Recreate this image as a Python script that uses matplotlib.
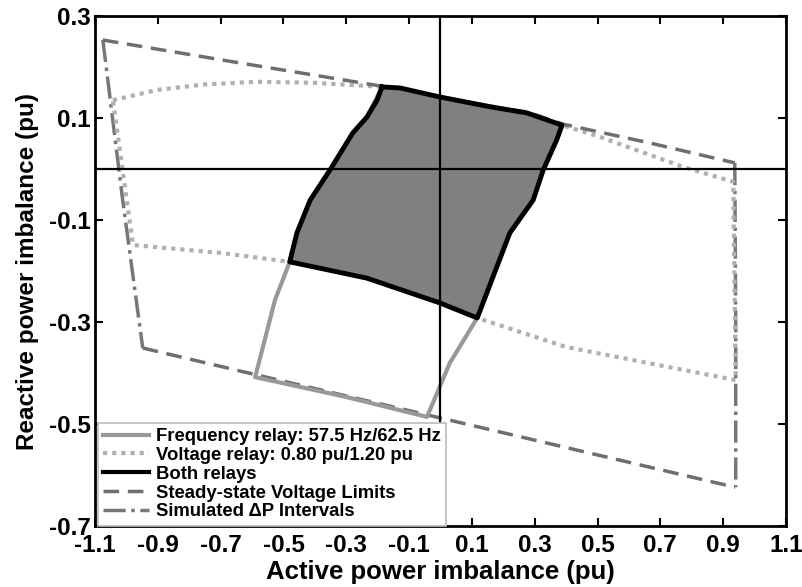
import matplotlib.pyplot as plt

plt.rcParams['font.family'] = ['Liberation Sans', 'DejaVu Sans']
plt.rcParams['font.weight'] = 'bold'

# Both relays (black outline, filled region)
both_x = [-0.186, -0.202, -0.234, -0.279, -0.352, -0.415, -0.457, -0.48,
          -0.234, 0.0, 0.117, 0.221, 0.295, 0.327, 0.37, 0.387,
          0.275, 0.158, 0.0, -0.129, -0.186]
both_y = [0.161, 0.135, 0.102, 0.071, -0.002, -0.061, -0.125, -0.182,
          -0.214, -0.263, -0.292, -0.125, -0.061, -0.002, 0.057, 0.086,
          0.11, 0.122, 0.141, 0.159, 0.161]

# Frequency relay 57.5 Hz / 62.5 Hz
freq_x = [-0.186, -0.234, -0.352, -0.457, -0.48, -0.527, -0.59, -0.3, -0.043,
          0.03, 0.117, 0.221, 0.295, 0.327, 0.387, 0.275, 0.0, -0.186]
freq_y = [0.161, 0.102, -0.002, -0.125, -0.182, -0.257, -0.408, -0.447, -0.486,
          -0.38, -0.292, -0.125, -0.061, -0.002, 0.086, 0.11, 0.141, 0.161]

# Voltage relay 0.80 pu / 1.20 pu
volt_x = [-1.043, -0.903, -0.75, -0.585, -0.4, -0.234, -0.186, 0.0, 0.158,
          0.275, 0.387, 0.508, 0.773, 0.932, 0.94, 0.40, 0.117, 0.0, -0.234,
          -0.48, -0.693, -0.979, -1.043]
volt_y = [0.135, 0.155, 0.166, 0.171, 0.169, 0.163, 0.161, 0.141, 0.122,
          0.11, 0.086, 0.063, 0.004, -0.025, -0.414, -0.349, -0.292, -0.263,
          -0.214, -0.182, -0.165, -0.149, 0.135]

# Steady-state voltage limits (upper and lower)
ss_top_x = [-1.075, -0.639, -0.193, 0.0, 0.158, 0.275, 0.39, 0.667, 0.937]
ss_top_y = [0.253, 0.208, 0.163, 0.141, 0.122, 0.112, 0.088, 0.051, 0.012]
ss_bot_x = [-0.948, -0.597, 0.04, 0.938]
ss_bot_y = [-0.351, -0.402, -0.494, -0.624]

# Simulated dP intervals
dp_left_x = [-1.075, -1.012, -0.948]
dp_left_y = [0.253, -0.06, -0.351]
dp_right_x = [0.937, 0.94, 0.94]
dp_right_y = [0.012, -0.3, -0.624]

xticks = [-1.1, -0.9, -0.7, -0.5, -0.3, -0.1, 0.1, 0.3, 0.5, 0.7, 0.9, 1.1]
yticks = [0.3, 0.1, -0.1, -0.3, -0.5, -0.7]

fig = plt.figure(figsize=(8.03, 5.87), dpi=100)
ax = fig.add_axes([0.1183, 0.1039, 0.8605, 0.8688])

ax.plot(dp_left_x, dp_left_y, color='#777777', lw=2.5, ls='-.', zorder=2)
ax.plot(dp_right_x, dp_right_y, color='#777777', lw=2.5, ls='-.', zorder=2)
ax.plot(volt_x, volt_y, color='#b0b0b0', lw=3, ls=(0, (1, 1.2)), zorder=3)
ax.plot(ss_top_x, ss_top_y, color='#6e6e6e', lw=2.5, ls=(0, (4.5, 2.5)), zorder=3)
ax.plot(ss_bot_x, ss_bot_y, color='#6e6e6e', lw=2.5, ls=(0, (4.5, 2.5)), zorder=3)
ax.plot(freq_x, freq_y, color='#999999', lw=3, zorder=4)
ax.fill(both_x, both_y, color='#808080', zorder=4)
ax.plot(both_x, both_y, color='black', lw=3.5, zorder=5)
ax.axhline(0, color='black', lw=1.6, zorder=6)
ax.axvline(0, color='black', lw=1.6, zorder=6)

# legend handles
h1, = ax.plot([], [], color='#999999', lw=3)
h2, = ax.plot([], [], color='#b0b0b0', lw=3, ls=(0, (1, 1.2)))
h3, = ax.plot([], [], color='black', lw=3)
h4, = ax.plot([], [], color='#6e6e6e', lw=2.5, ls=(0, (4.5, 2.5)))
h5, = ax.plot([], [], color='#777777', lw=2.5, ls='-.')
leg = ax.legend([h1, h2, h3, h4, h5],
                ['Frequency relay: 57.5 Hz/62.5 Hz',
                 'Voltage relay: 0.80 pu/1.20 pu',
                 'Both relays',
                 'Steady-state Voltage Limits',
                 'Simulated \u0394P Intervals'],
                loc='lower left', bbox_to_anchor=(0.004, 0.0), borderaxespad=0,
                fancybox=False, framealpha=1, edgecolor='#bbbbbb',
                prop={'size': 13.3, 'weight': 'bold'}, handlelength=2.5,
                handletextpad=0.35, labelspacing=0.1, borderpad=0.3)
leg.set_zorder(10)
leg.get_frame().set_linewidth(1.2)

ax.set_xlim(-1.1, 1.1)
ax.set_ylim(-0.7, 0.3)
ax.set_xticks(xticks)
ax.set_yticks(yticks)
ax.set_xticklabels([str(v) for v in xticks])
ax.set_yticklabels([str(v) for v in yticks])
ax.tick_params(direction='in', top=True, right=True, length=6, width=1.5,
               labelsize=17.5)
ax.tick_params(axis='x', pad=6)
ax.tick_params(axis='y', pad=3)
for s in ax.spines.values():
    s.set_linewidth(2)

ax.set_xlabel('Active power imbalance (pu)', fontsize=18.5, fontweight='bold', labelpad=2)
ax.set_ylabel('Reactive power imbalance (pu)', fontsize=17.5, fontweight='bold', labelpad=7)

fig.savefig('out.png', dpi=100)
